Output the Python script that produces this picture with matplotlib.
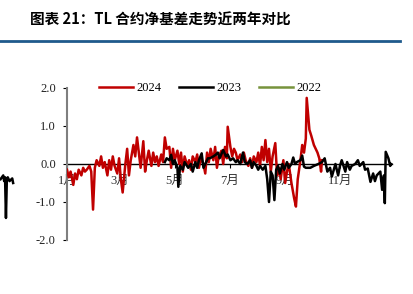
import numpy as np
import matplotlib
matplotlib.use("Agg")
import matplotlib.pyplot as plt
from matplotlib.lines import Line2D

plt.rcParams['font.family'] = ['Liberation Serif', 'Noto Sans CJK SC']

# day of year, net basis
days_2024 = [0, 2, 4, 7, 9, 11, 13, 16, 18, 20, 22, 25, 27, 29, 31, 33, 36, 38, 40, 42,
             45, 47, 49, 51, 53, 56, 58, 60, 62, 65, 67, 69, 71, 74, 76, 78, 80, 82, 85, 87,
             89, 91, 94, 96, 98, 100, 102, 105, 107, 109, 111, 114, 116, 118, 120, 123, 125,
             127, 129, 131, 134, 136, 138, 140, 143, 145, 147, 149, 152, 154, 156, 158, 160,
             163, 165, 167, 169, 172, 174, 176, 178, 179, 182, 184, 186, 188, 190, 193, 195,
             197, 199, 202, 204, 206, 208, 211, 213, 215, 217, 219, 221, 223, 225, 227, 229,
             232, 234, 236, 238, 241, 243, 245, 247, 250, 253, 255, 257, 260, 262, 264, 266,
             267, 270, 272, 275, 279, 281, 283, 284]
basis_2024 = [-0.15, -0.35, -0.2, -0.55, -0.25, -0.4, -0.15, -0.3, -0.1, -0.2, -0.15, -0.05,
              -0.2, -1.2, -0.1, 0.1, -0.05, 0.2, -0.1, 0.05, -0.3, 0.1, -0.15, 0.2, -0.05,
              -0.25, 0.15, -0.4, -0.75, 0.0, 0.4, -0.3, 0.1, 0.5, 0.2, 0.7, 0.3, -0.1, 0.6,
              -0.2, 0.1, 0.35, -0.05, 0.3, 0.05, 0.2, -0.05, 0.25, 0.05, 0.7, 0.4, 0.45, -0.1,
              0.4, 0.1, 0.35, 0.0, 0.3, -0.2, 0.2, -0.05, 0.1, -0.15, 0.2, 0.05, 0.25, -0.1,
              0.15, 0.0, -0.25, 0.3, 0.05, 0.4, 0.1, 0.45, -0.1, 0.2, 0.35, 0.0, 0.45, 0.15,
              0.98, 0.45, 0.2, 0.4, 0.3, 0.1, 0.25, 0.05, 0.3, 0.1, -0.05, 0.15, -0.1, 0.2,
              0.05, 0.3, -0.05, 0.45, 0.1, 0.63, 0.05, 0.4, -0.2, 0.2, 0.55, -0.3, -0.1, -0.4,
              0.1, -0.5, -0.2, 0.0, -0.5, -0.9, -1.12, -0.4, 0.1, 0.5, 0.3, 0.67, 1.74, 0.9,
              0.75, 0.5, 0.3, 0.15, -0.2, 0.1]

days_2023 = [-74, -71, -70, -69, -68, -67, -66, -64, -61, -60, None,
             109, 111, 114, 116, 118, 120, 123, 124, 126, 129, 131, 135, 138, 140, 143, 145,
             147, 150, 152, 155, 157, 159, 163, 166, 168, 170, 174, 177, 179, 182, 185, 188,
             190, 193, 196, 198, 201, 204, 206, 208, 211, 213, 215, 218, 221, 223, 225, 227,
             229, 231, 233, 235, 237, 240, 242, 245, 247, 250, 252, 254, 256, 260, 262, 264,
             266, 271, 275, 280, 284, 287, 290, 293, 295, 299, 302, 304, 306, 310, 312, 315,
             317, 321, 324, 326, 330, 332, 335, 338, 341, 343, 345, 349, 351, 353, 354, 355,
             358, 360, 361]
basis_2023 = [-0.4, -0.3, -0.45, -0.35, -1.42, -0.4, -0.35, -0.45, -0.38, -0.5, None,
              0.05, 0.15, 0.1, 0.24, 0.0, 0.1, -0.1, -0.6, -0.05, -0.15, 0.05, -0.1, 0.0,
              -0.2, 0.05, -0.1, 0.1, 0.28, -0.1, 0.05, 0.15, 0.15, 0.2, 0.25, 0.3, 0.15, 0.37,
              0.2, 0.25, 0.1, 0.15, 0.05, 0.1, 0.0, 0.3, 0.05, 0.0, 0.1, -0.1, 0.05, -0.05,
              -0.15, -0.05, -0.15, -0.05, -0.4, -1.0, -0.2, -0.3, -0.95, -0.15, -0.05, -0.25,
              0.0, -0.15, 0.05, -0.1, 0.0, 0.17, 0.0, 0.05, 0.1, 0.22, -0.07, -0.1, -0.1,
              -0.05, 0.0, 0.05, 0.15, -0.2, -0.1, -0.33, 0.0, -0.3, -0.05, 0.1, -0.2, 0.05,
              -0.15, -0.05, 0.0, 0.1, -0.05, 0.05, -0.15, -0.12, -0.47, -0.25, -0.45, -0.3,
              -0.2, -0.68, -0.3, -1.03, 0.32, 0.15, -0.05, 0.0]

days_2022 = []
basis_2022 = []

month_ticks = [0, 59, 120, 181, 243, 304]
month_labels = ['1月', '3月', '5月', '7月', '9月', '11月']

fig = plt.figure(figsize=(4.13, 2.94), dpi=100)
ax = fig.add_axes([67 / 413, 54 / 294, 325 / 413, 152 / 294])

x23 = np.array([np.nan if d is None else d for d in days_2023], dtype=float)
y23 = np.array([np.nan if v is None else v for v in basis_2023], dtype=float)

ax.plot(days_2024, basis_2024, color='#C00000', lw=1.8, label='2024', zorder=3)
ax.plot(x23, y23, color='black', lw=1.8, label='2023', zorder=4, clip_on=False)
ax.plot(days_2022, basis_2022, color='#77933C', lw=1.8, label='2022')

ax.set_xlim(0, 362)
ax.set_ylim(-2, 2)
ax.set_yticks([2, 1, 0, -1, -2])
ax.set_yticklabels(['2.0', '1.0', '0.0', '-1.0', '-2.0'])
ax.set_xticks(month_ticks)
ax.set_xticklabels(month_labels)

for s in ['top', 'right']:
    ax.spines[s].set_visible(False)
ax.spines['bottom'].set_position(('data', 0))
ax.spines['bottom'].set_color('black')
ax.spines['bottom'].set_linewidth(1.0)
ax.spines['bottom'].set_zorder(2)
ax.spines['left'].set_color('#7f7f7f')
ax.spines['left'].set_linewidth(1.5)

ax.tick_params(axis='y', direction='out', length=3, width=0.8, color='black',
               labelsize=9, labelcolor='#222222', pad=5)
ax.tick_params(axis='x', direction='out', length=3, width=0.8, color='black',
               labelsize=9, labelcolor='#333333', pad=5)

ax.legend(loc='center', bbox_to_anchor=(0.44, 1.0), ncol=3, frameon=False,
          fontsize=9, handlelength=2.7, columnspacing=1.4, handletextpad=0.3)

fig.text(30 / 413, 1 - 20 / 294, '图表 21：TL 合约净基差走势近两年对比',
         family=['Noto Sans CJK SC', 'DejaVu Sans'], fontsize=10.5, fontweight='bold',
         va='center', ha='left')
fig.add_artist(Line2D([0, 400 / 413], [1 - 41 / 294, 1 - 41 / 294],
                      color='#1f5a8c', lw=2.0, transform=fig.transFigure))

fig.savefig('out.png', dpi=100)
